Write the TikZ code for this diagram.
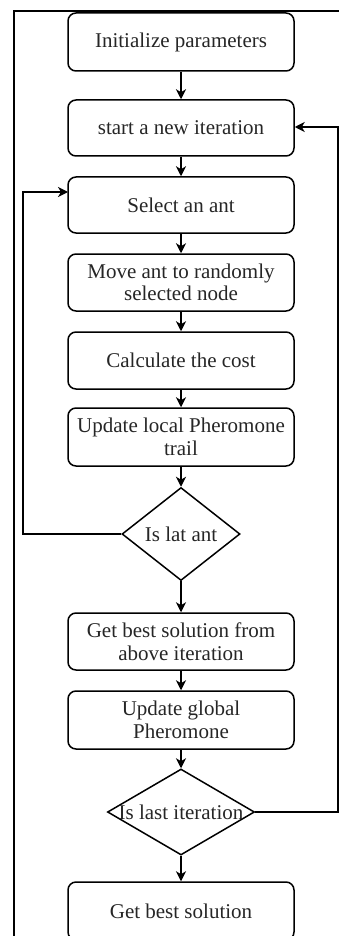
\documentclass[tikz,border=0pt]{standalone}
\usepackage{fontspec}
\setmainfont{Liberation Serif}
\usetikzlibrary{shapes.geometric,arrows.meta}
\begin{document}
\begin{tikzpicture}[x=1pt,y=-1pt,
  box/.style={draw,line width=1.5pt,rounded corners=8pt,minimum width=226pt,inner sep=0pt,align=center,
    font=\fontsize{21}{22.5}\selectfont,text=black!85},
  dia/.style={draw,line width=1.5pt,diamond,inner sep=0pt},
  dtext/.style={font=\fontsize{21}{22.5}\selectfont,text=black!85,inner sep=0pt},
  arr/.style={line width=1.5pt,-{Stealth[length=10pt,width=10pt,inset=3pt]}},
  loopline/.style={line width=1.3pt,-{Stealth[length=10pt,width=10pt,inset=3pt]}},
  frameline/.style={line width=1.3pt}]
\useasboundingbox (0,0) rectangle (339,936);
\clip (0,0) rectangle (339,936);
\draw[frameline] (14,945) -- (14,11) -- (345,11);
\node[box,minimum height=58pt] (b1) at (181,42) {Initialize parameters};
\node[box,minimum height=56pt] (b2) at (181,128) {start a new iteration};
\node[box,minimum height=56pt] (b3) at (181,205) {Select an ant};
\node[box,minimum height=57pt] (b4) at (181,282.5) {Move ant to randomly\\selected node};
\node[box,minimum height=57pt] (b5) at (181,360.5) {Calculate the cost};
\node[box,minimum height=58pt] (b6) at (181,437) {Update local Pheromone\\trail};
\node[dia,minimum width=118pt,minimum height=93pt] (d1) at (181,534) {};
\node[dtext] (t1) at (d1.center) {Is lat ant};
\node[box,minimum height=57pt] (b7) at (181,641.5) {Get best solution from\\above iteration};
\node[box,minimum height=58pt] (b8) at (181,720) {Update global\\Pheromone};
\node[dia,minimum width=147pt,minimum height=86pt] (d2) at (181,812) {};
\node[dtext] (t2) at (d2.center) {Is last iteration};
\node[box,minimum height=58pt] (b9) at (181,911) {Get best solution};
\draw[arr] (b1) -- (b2);
\draw[arr] (b2) -- (b3);
\draw[arr] (b3) -- (b4);
\draw[arr] (b4) -- (b5);
\draw[arr] (b5) -- (b6);
\draw[arr] (b6) -- (d1);
\draw[arr] (d1) -- (b7);
\draw[arr] (b7) -- (b8);
\draw[arr] (b8) -- (d2);
\draw[arr] (d2) -- (b9);
\coordinate (lA) at (23,534);
\coordinate (lB) at (23,192);
\coordinate (b3in) at (68,192);
\draw[arr] (d1.west) -- (lA) -- (lB) -- (b3in);
\coordinate (rA) at (338,812);
\coordinate (rB) at (338,127);
\draw[loopline] (d2.east) -- (rA) -- (rB) -- (b2.east |- rB);
\end{tikzpicture}
\end{document}
